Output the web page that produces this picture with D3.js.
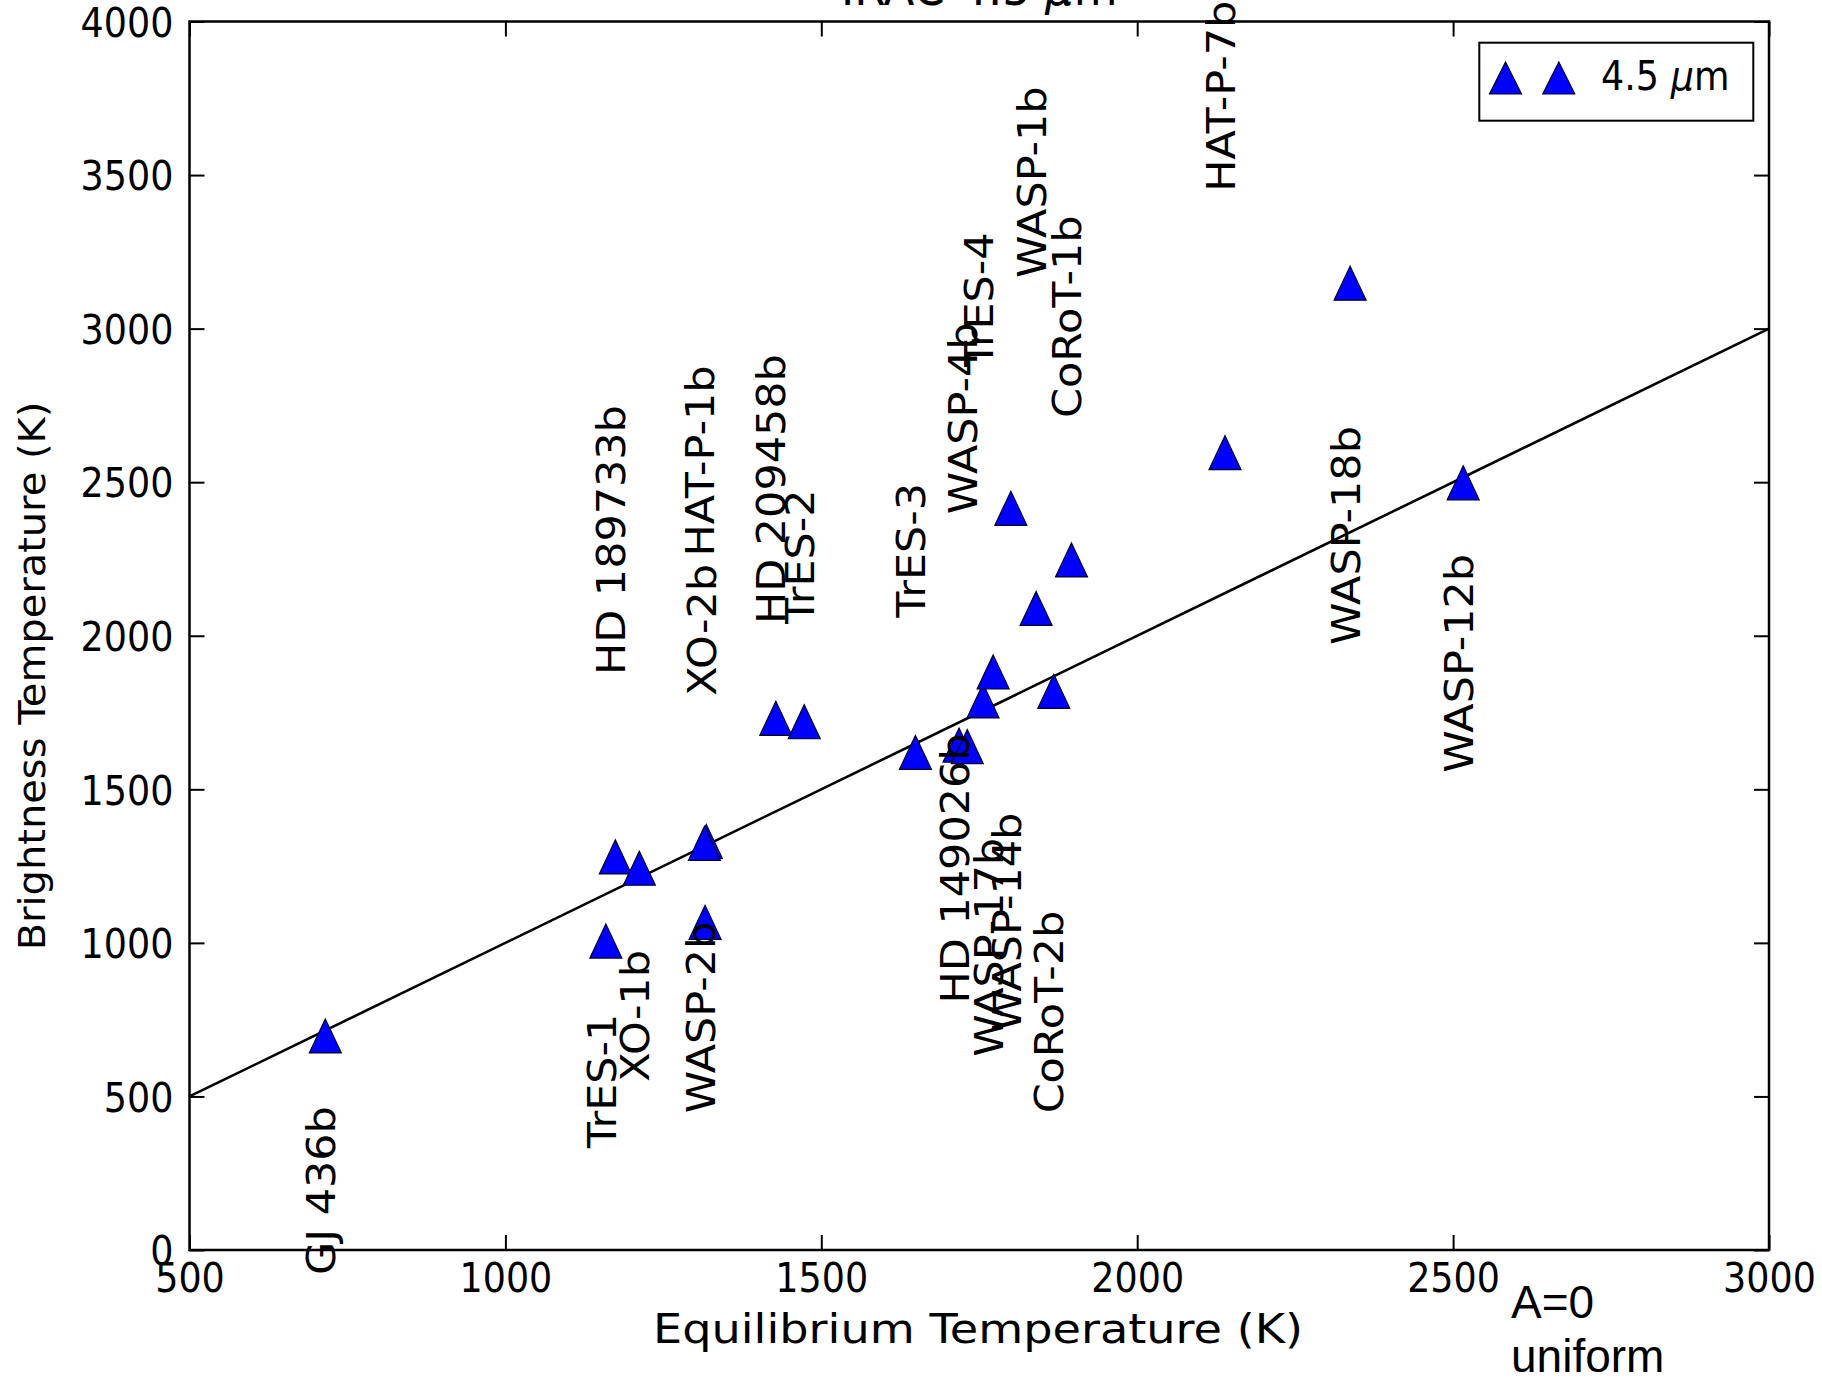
<!DOCTYPE html>
<html>
<head>
<meta charset="utf-8">
<script src="https://cdn.jsdelivr.net/npm/d3@7"></script>
<style>
  body { margin: 0; background: #ffffff; }
  svg text { fill: #000; }
</style>
</head>
<body>
<script>
// ---- data -------------------------------------------------------------
const planets = [
  "GJ 436b", "TrES-1", "HD 189733b", "XO-1b", "XO-2b", "HAT-P-1b", "WASP-2b",
  "HD 209458b", "TrES-2", "TrES-3", "HD 149026b", "WASP-4b", "TrES-4",
  "WASP-17b", "WASP-14b", "WASP-1b", "CoRoT-2b", "CoRoT-1b", "HAT-P-7b",
  "WASP-18b", "WASP-12b"
];
// equilibrium temperature (K)
const teq = [715, 1159, 1174, 1212, 1318, 1315, 1316, 1428, 1473, 1649, 1718,
             1731, 1756, 1772, 1800, 1840, 1868, 1896, 2139, 2337, 2516];
// 4.5 micron brightness temperature (K)
const tb45 = [697, 1006, 1280, 1243, 1330, 1324, 1067, 1731, 1720, 1620, 1644,
              1639, 1788, 1882, 2415, 2089, 1819, 2247, 2596, 3148, 2498];
// temperature (K) at which each name label starts
const labelAt = [-81, 331, 1872, 548, 1805, 2258, 445, 2038, 2038, 2059, 803,
                 2396, 2875, 629, 711, 3165, 445, 2709, 3446, 1970, 1554];
const xTicks = [500, 1000, 1500, 2000, 2500, 3000];
const yTicks = [0, 500, 1000, 1500, 2000, 2500, 3000, 3500, 4000];
const unityLine = [500, 3000];   // Tb = Teq

// ---- layout -----------------------------------------------------------
const W = 1822, H = 1382;
const box = { left: 189.5, right: 1769, top: 21.5, bottom: 1250 };
const SY = 1.12;          // vertical text stretch
const FS = 36.5;          // tick / legend font size
const FN = 39;            // planet name font size
const SN = 1.1;           // planet name stretch
const SANS = "DejaVu Sans, sans-serif";

const svg = d3.select("body").append("svg")
  .attr("width", W).attr("height", H)
  .style("display", "block");
svg.append("rect").attr("width", W).attr("height", H).attr("fill", "#fff");

const x = d3.scaleLinear().domain([500, 3000]).range([box.left, box.right]);
const y = d3.scaleLinear().domain([0, 4000]).range([box.bottom, box.top]);

// ---- axes (inward ticks on all four sides) ----------------------------
const tick = 15;
function styleAxis(g) {
  g.select(".domain").remove();
  g.selectAll(".tick line").attr("stroke", "#000").attr("stroke-width", 2);
}
svg.append("g").attr("transform", `translate(0,${box.bottom})`)
  .call(d3.axisBottom(x).tickValues(xTicks).tickSizeInner(-tick).tickSizeOuter(0)
        .tickPadding(12).tickFormat(d3.format("d")))
  .call(styleAxis)
  .call(g => g.selectAll(".tick text")
    .style("font-family", SANS).style("font-size", FS + "px").attr("fill", "#000")
    .attr("transform", `scale(1,${SY})`));

svg.append("g").attr("transform", `translate(${box.left},0)`)
  .call(d3.axisLeft(y).tickValues(yTicks).tickSizeInner(-tick).tickSizeOuter(0)
        .tickPadding(16).tickFormat(d3.format("d")))
  .call(styleAxis)
  .call(g => g.selectAll(".tick text")
    .style("font-family", SANS).style("font-size", FS + "px").attr("fill", "#000")
    .attr("dy", "0.36em")
    .attr("transform", `scale(1,${SY})`));

svg.append("g").attr("transform", `translate(0,${box.top})`)
  .call(d3.axisTop(x).tickValues(xTicks).tickSizeInner(-tick).tickSizeOuter(0).tickFormat(""))
  .call(styleAxis);
svg.append("g").attr("transform", `translate(${box.right},0)`)
  .call(d3.axisRight(y).tickValues(yTicks).tickSizeInner(-tick).tickSizeOuter(0).tickFormat(""))
  .call(styleAxis);

// ---- 1:1 line ---------------------------------------------------------
svg.append("path")
  .datum(unityLine)
  .attr("d", d3.line().x(d => x(d)).y(d => y(d)))
  .attr("fill", "none").attr("stroke", "#000").attr("stroke-width", 2.6);

// ---- triangle markers -------------------------------------------------
const triW = 32, triH = 34;
const triPath = `M0,${-triH / 2}L${triW / 2},${triH / 2}L${-triW / 2},${triH / 2}Z`;
svg.append("g").selectAll("path")
  .data(d3.range(planets.length))
  .join("path")
  .attr("d", triPath)
  .attr("transform", i => `translate(${x(teq[i])},${y(tb45[i])})`)
  .attr("fill", "#0000ff").attr("stroke", "#000022").attr("stroke-width", 1.2);

// ---- planet names -----------------------------------------------------
svg.append("g").selectAll("text")
  .data(d3.range(planets.length))
  .join("text")
  .attr("transform", i => `translate(${x(teq[i]) - 4},${y(labelAt[i])}) scale(1,${SN}) rotate(-90)`)
  .attr("dy", "0.35em")
  .style("font-family", SANS).style("font-size", FN + "px")
  .text(i => planets[i]);

// ---- frame ------------------------------------------------------------
svg.append("rect")
  .attr("x", box.left).attr("y", box.top)
  .attr("width", box.right - box.left).attr("height", box.bottom - box.top)
  .attr("fill", "none").attr("stroke", "#000").attr("stroke-width", 2.5);

// ---- title (mostly above the page edge) -------------------------------
const title = svg.append("text")
  .attr("transform", `translate(${(box.left + box.right) / 2},5) scale(1,${SY})`)
  .attr("text-anchor", "middle")
  .style("font-family", SANS).style("font-size", "45px");
title.append("tspan").text("IRAC 4.5 ");
title.append("tspan").attr("font-style", "italic").text("\u03bc");
title.append("tspan").text("m");

// ---- axis labels ------------------------------------------------------
svg.append("text")
  .attr("transform", `translate(978,1343) scale(1,${SY})`)
  .attr("text-anchor", "middle")
  .style("font-family", SANS).style("font-size", FS + "px")
  .attr("textLength", 650).attr("lengthAdjust", "spacingAndGlyphs")
  .text("Equilibrium Temperature (K)");

svg.append("text")
  .attr("transform", `translate(45,676) scale(1,1.08) rotate(-90)`)
  .attr("text-anchor", "middle")
  .style("font-family", SANS).style("font-size", "37px")
  .text("Brightness Temperature (K)");

// ---- legend -----------------------------------------------------------
const leg = svg.append("g");
leg.append("rect")
  .attr("x", 1479.3).attr("y", 42.7).attr("width", 274).attr("height", 78)
  .attr("fill", "#fff").attr("stroke", "#000").attr("stroke-width", 2);
leg.selectAll("path.lm").data([1505.5, 1558.8]).join("path")
  .attr("class", "lm")
  .attr("d", `M0,-16L16,16L-16,16Z`)
  .attr("transform", d => `translate(${d},78)`)
  .attr("fill", "#0000ff").attr("stroke", "#000022").attr("stroke-width", 1.2);
const legText = leg.append("text")
  .attr("transform", `translate(1601,90) scale(1,${SY})`)
  .style("font-family", SANS).style("font-size", FS + "px");
legText.append("tspan").text("4.5 ");
legText.append("tspan").attr("font-style", "italic").text("\u03bc");
legText.append("tspan").text("m");

// ---- model note -------------------------------------------------------
const note = svg.append("text")
  .style("font-family", "'Liberation Sans', Arial, sans-serif").style("font-size", "46px");
note.append("tspan").attr("x", 1511).attr("y", 1318).text("A=0");
note.append("tspan").attr("x", 1511).attr("y", 1372).text("uniform");
</script>
</body>
</html>
